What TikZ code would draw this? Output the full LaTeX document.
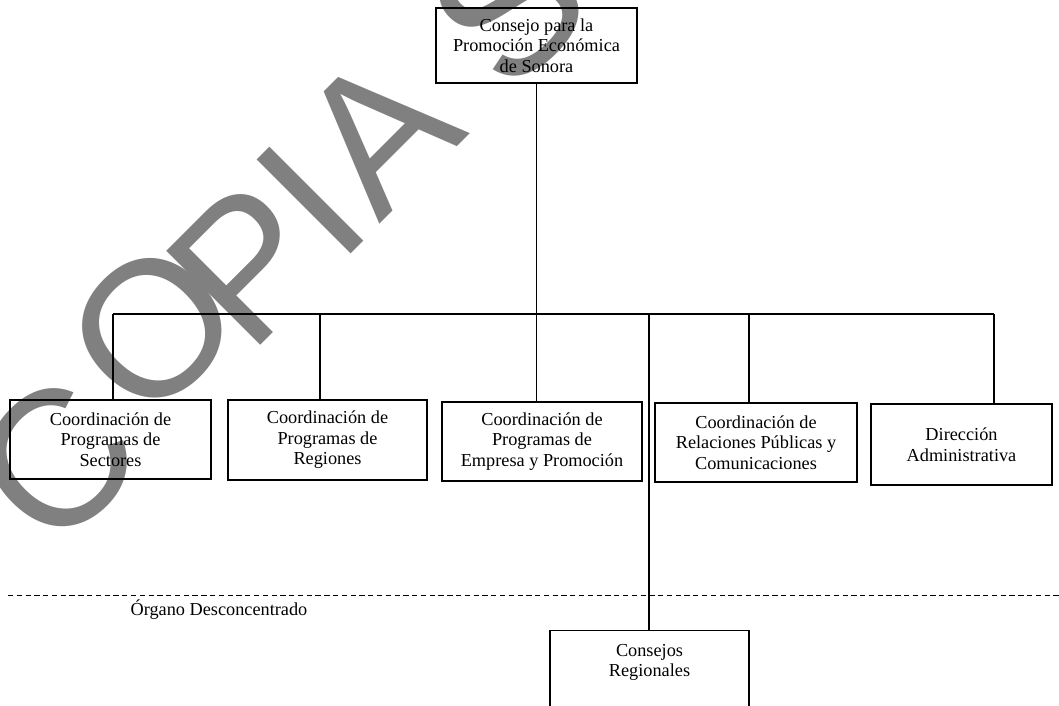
\documentclass[tikz,border=0pt]{standalone}
\usepackage{fontspec}
\setmainfont{Liberation Serif}
\newfontfamily\wmfont{Liberation Sans}
\begin{document}
\begin{tikzpicture}[x=0.02cm,y=-0.02cm,
  box/.style={draw, line width=0.6pt, align=center, inner sep=2pt,
    font=\fontsize{10.4}{11.7}\selectfont},
  link/.style={line width=0.6pt},
  sep/.style={line width=0.5pt, dash pattern=on 3pt off 2pt},
  wm/.style={text=black!50, inner sep=0pt, anchor=center, rotate=45,
    font=\wmfont\fontsize{110}{110}\selectfont}]
\useasboundingbox (0,0) rectangle (1059,706);
\begin{scope}
\clip (0,0) rectangle (1059,706);
% watermark letters
\node[wm] (wC) at (56,461) {C};
\node[wm] (wO) at (153,328) {O};
\node[wm] (wP) at (248,264) {P};
\node[wm] (wI) at (310,201) {I};
\node[wm] (wA) at (378,132) {A};
\node[wm] (wS) at (508,6) {S};
% boxes
\node[box, minimum width=4.02cm, minimum height=1.5cm] (top) at (536.5,45.5)
  {Consejo para la\\Promoción Económica\\de Sonora};
\node[box, minimum width=4.02cm, minimum height=1.58cm] (b1) at (110.5,439.5)
  {Coordinación de\\Programas de\\Sectores};
\node[box, minimum width=3.98cm, minimum height=1.6cm] (b2) at (327.5,440)
  {Coordinación de\\Programas de\\Regiones};
\node[box, minimum width=4.0cm, minimum height=1.58cm] (b3) at (542,441.5)
  {Coordinación de\\Programas de\\Empresa y Promoción};
\node[box, minimum width=4.04cm, minimum height=1.58cm] (b4) at (756,442.5)
  {Coordinación de\\Relaciones Públicas y\\Comunicaciones};
\node[box, minimum width=3.62cm, minimum height=1.62cm] (b5) at (961.5,444.5)
  {Dirección\\Administrativa};
\node[box, minimum width=3.98cm, anchor=north, inner ysep=7.7pt] (cr) at (649.5,630)
  {Consejos\\Regionales\\[1.4cm]\strut};
% bus
\coordinate (j1) at (113,314);
\coordinate (j2) at (320,314);
\coordinate (jc) at (649,314);
\coordinate (j4) at (749,314);
\coordinate (j5) at (994,314);
\draw[link] (j1) -- (j5);
\draw[link] (top.south) -- (top.south |- b3.north);
\draw[link] (j1) -- (j1 |- b1.north);
\draw[link] (j2) -- (j2 |- b2.north);
\draw[link] (j4) -- (j4 |- b4.north);
\draw[link] (j5) -- (j5 |- b5.north);
\draw[link] (jc) -- (jc |- cr.north);
% separator
\coordinate (sl) at (8,595);
\coordinate (sr) at (1059,595);
\draw[sep] (sl) -- (sr);
\node[font=\fontsize{10.4}{11.7}\selectfont, inner sep=0pt] (org) at (219,610) {Órgano Desconcentrado};
\end{scope}
\end{tikzpicture}
\end{document}
